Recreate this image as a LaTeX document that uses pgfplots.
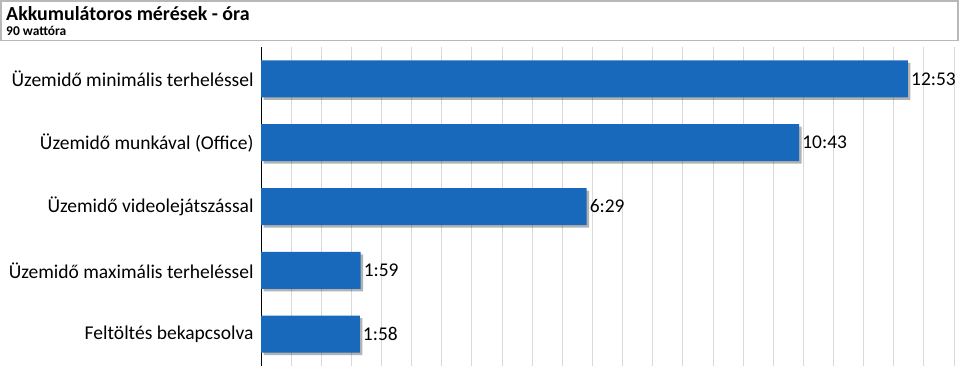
\documentclass[border=0pt]{standalone}
\usepackage{pgfplots}
\pgfplotsset{compat=1.18}
\usepackage{fontspec}
\setmainfont{Carlito}
\usetikzlibrary{shadows}
\definecolor{barblue}{RGB}{24,105,187}
\begin{document}
\begin{tikzpicture}[x=1bp,y=1bp]
\path[use as bounding box] (0,0) rectangle (960,380);
\draw[black!28, line width=1.6bp] (0.8,379.2) rectangle (958,339.5);
\node[anchor=base west, inner sep=0pt, font=\bfseries\fontsize{20}{22}\selectfont] at (6,360) {Akkumulátoros mérések - óra};
\node[anchor=base west, inner sep=0pt, font=\bfseries\fontsize{13.5}{15}\selectfont] at (6,344.5) {90 wattóra};
\begin{axis}[
  at={(261bp,14bp)}, anchor=south west,
  width=699bp, height=319bp, scale only axis,
  xmin=0, xmax=0.58, ymin=-0.5, ymax=4.5,
  y dir=reverse,
  xbar, bar width=0.58,
  xtick={0,0.025,0.05,0.075,0.1,0.125,0.15,0.175,0.2,0.225,0.25,0.275,0.3,0.325,0.35,0.375,0.4,0.425,0.45,0.475,0.5,0.525,0.55,0.575},
  xticklabels={},
  xmajorgrids,
  grid style={black!15, line width=0.9bp},
  axis x line*=bottom,
  x axis line style={draw=none},
  xtick style={draw=none},
  axis y line*=left,
  y axis line style={draw=black, line width=0.9bp},
  ytick={0,1,2,3,4},
  yticklabels={Üzemidő minimális terheléssel, Üzemidő munkával (Office), Üzemidő videolejátszással, Üzemidő maximális terheléssel, Feltöltés bekapcsolva},
  ytick style={draw=none},
  yticklabel style={font=\fontsize{19.6}{22}\selectfont, inner sep=0pt, xshift=-3bp},
  extra y ticks={-0.5,0.5,1.5,2.5,3.5,4.5},
  extra y tick labels={},
  extra y tick style={tick style={draw=black, line width=0.9bp}, tick align=outside, major tick length=4bp},
  clip=false,
]
\addplot[fill=barblue, draw=none,
  drop shadow={shadow xshift=2.5bp, shadow yshift=-2.5bp, fill=black, opacity=0.3},
  nodes near coords, point meta=explicit symbolic,
  nodes near coords style={font=\fontsize{19.5}{22}\selectfont, anchor=west, inner sep=3bp, text=black}]
coordinates {
(0.536806,0) [12:53]
(0.446528,1) [10:43]
(0.270139,2) [6:29]
(0.082639,3) [1:59]
(0.081944,4) [1:58]
};
\end{axis}
\end{tikzpicture}
\end{document}
